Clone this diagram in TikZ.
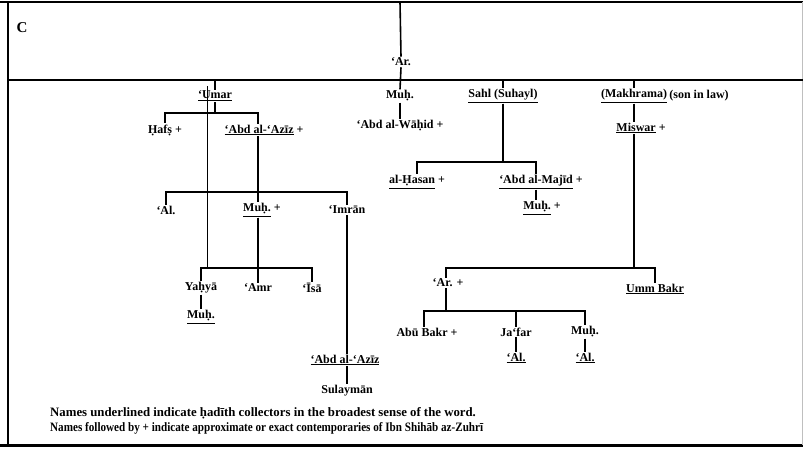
\documentclass[tikz,border=0pt]{standalone}
\usepackage{fontspec}
\usepackage{graphicx}
\setmainfont{Liberation Serif}
\begin{document}
\begin{tikzpicture}[x=1pt,y=-1pt,
  nm/.style={inner sep=1pt, font=\fontsize{12}{13}\selectfont\bfseries},
  foot/.style={inner sep=0pt, anchor=west, font=\fontsize{12.8}{14}\selectfont\bfseries},
  tree/.style={line width=1.6pt},
  thin/.style={line width=0.6pt},
  frame/.style={line width=2.4pt}]
\useasboundingbox (0,0) rectangle (803,450);
% frame
\draw[frame] (0,2) -- (803,2);
\draw[line width=1.2pt] (8,2) -- (8,445);
\draw[line width=3pt] (0,445) -- (803,445);
\draw[gray!50, line width=0.6pt] (802,2) -- (802,445);
\draw[line width=2.2pt] (8,80) -- (803,80);
\node[font=\fontsize{15}{15}\selectfont\bfseries, inner sep=0pt] (c) at (22,28) {C};
% nodes
\node[nm] (ar) at (401,62) {‘Ar.};
\node[nm] (umar) at (215,96) {\underline{‘Umar}};
\node[nm] (muh1) at (400,96) {Muḥ.};
\node[nm] (sahl) at (503,96) {\underline{Sahl (Suhayl)}};
\node[nm] (makh) at (634,96) {\underline{(Makhrama)}};
\node[nm, anchor=west] (sil) at (makh.east) {(son in law)};
\node[nm] (wahid) at (400,126) {‘Abd al-Wāḥid +};
\node[nm] (miswar) at (641,128) {\underline{Miswar} +};
\node[nm] (hafs) at (165,130) {Ḥafṣ +};
\node[nm] (aziz) at (264,130) {\underline{‘Abd al-‘Azīz} +};
\node[nm] (ali1) at (166,210) {‘Al.};
\node[nm] (muh2) at (262,210) {\underline{Muḥ.} +};
\node[nm] (imran) at (347,210) {‘Imrān};
\node[nm] (yahya) at (201,288) {Yaḥyā};
\node[nm] (amr) at (258,288) {‘Amr};
\node[nm] (isa) at (312,288) {‘Īsā};
\node[nm] (muh3) at (201,317) {\underline{Muḥ.}};
\node[nm] (aziz2) at (345,360) {\underline{‘Abd al-‘Azīz}};
\node[nm] (sulayman) at (347,391) {Sulaymān};
\node[nm] (hasan) at (417,182) {\underline{al-Ḥasan} +};
\node[nm] (majid) at (541,182) {\underline{‘Abd al-Majīd} +};
\node[nm] (muh4) at (542,208) {\underline{Muḥ.} +};
\node[nm] (ar2) at (448,283) {‘Ar. +};
\node[nm] (umm) at (655,289) {\underline{Umm Bakr}};
\node[nm] (abubakr) at (427,332) {Abū Bakr +};
\node[nm] (jafar) at (516,332) {Ja‘far};
\node[nm] (muh5) at (585,332) {Muḥ.};
\node[nm] (ali2) at (516,358) {\underline{‘Al.}};
\node[nm] (ali3) at (585,358) {\underline{‘Al.}};
\node[foot] (f1) at (50,413) {Names underlined indicate ḥadīth collectors in the broadest sense of the word.};
\node[foot] (f2) at (50,428) {\scalebox{0.87}[1]{Names followed by + indicate approximate or exact contemporaries of Ibn Shihāb az-Zuhrī}};
% bar levels
\coordinate (top) at (400,2);
\coordinate (bT) at (0,80);
\coordinate (bU) at (0,113);
\coordinate (bA) at (0,192);
\coordinate (bM) at (0,268);
\coordinate (bS) at (0,162);
\coordinate (bW) at (0,268);
\coordinate (bR) at (0,311);
% connectors
\draw[tree] (top) -- (ar.north);
\draw[tree] (ar.south) -- (muh1.north);
\draw[tree] (umar.north |- bT) -- (makh.north |- bT);
\draw[tree] (umar.north |- bT) -- (umar.north);
\draw[tree] (sahl.north |- bT) -- (sahl.north);
\draw[tree] (makh.north |- bT) -- (makh.north);
\draw[tree] (muh1.south) -- (wahid.north);
\draw[tree] (makh.south) -- (miswar.north -| makh.south);
\draw[tree] (umar.south) |- (hafs.north |- bU) -- (hafs.north);
\draw[tree] (umar.south) |- ([xshift=-6pt]aziz.north |- bU) -- ([xshift=-6pt]aziz.north);
\path ([xshift=-6pt]aziz.south) coordinate (azb);
\draw[tree] (azb) |- (ali1.north |- bA) -- (ali1.north);
\draw[tree] (azb) |- (imran.north |- bA) -- (imran.north);
\draw[tree] (azb |- bA) -- (muh2.north -| azb);
\path (muh2.south -| azb) coordinate (mub);
\draw[tree] (mub) |- (yahya.north |- bM) -- (yahya.north);
\draw[tree] (mub) |- (isa.north |- bM) -- (isa.north);
\draw[tree] (mub |- bM) -- (amr.north -| mub);
\draw[tree] (yahya.south) -- (muh3.north);
\draw[tree] (imran.south) -- (imran.south |- aziz2.north);
\draw[tree] (aziz2.south -| imran.south) -- (sulayman.north -| imran.south);
\draw[thin] (207,86) -- (207,268);
\draw[tree] (sahl.south) |- (hasan.north |- bS) -- (hasan.north);
\draw[tree] (sahl.south) |- ([xshift=-5pt]majid.north |- bS) -- ([xshift=-5pt]majid.north);
\draw[tree] ([xshift=-5pt]majid.south) -- ([xshift=-5pt]majid.south |- muh4.north);
\draw[tree] (miswar.south -| makh.south) |- ([xshift=-2pt]ar2.north |- bW) -- ([xshift=-2pt]ar2.north);
\draw[tree] (miswar.south -| makh.south) |- (umm.north |- bW) -- (umm.north);
\draw[tree] ([xshift=-2pt]ar2.south) |- ([xshift=-3pt]abubakr.north |- bR) -- ([xshift=-3pt]abubakr.north);
\draw[tree] ([xshift=-2pt]ar2.south) |- (muh5.north |- bR) -- (muh5.north);
\draw[tree] (jafar.north |- bR) -- (jafar.north);
\draw[tree] (jafar.south) -- (ali2.north);
\draw[tree] (muh5.south) -- (ali3.north);
\end{tikzpicture}
\end{document}
